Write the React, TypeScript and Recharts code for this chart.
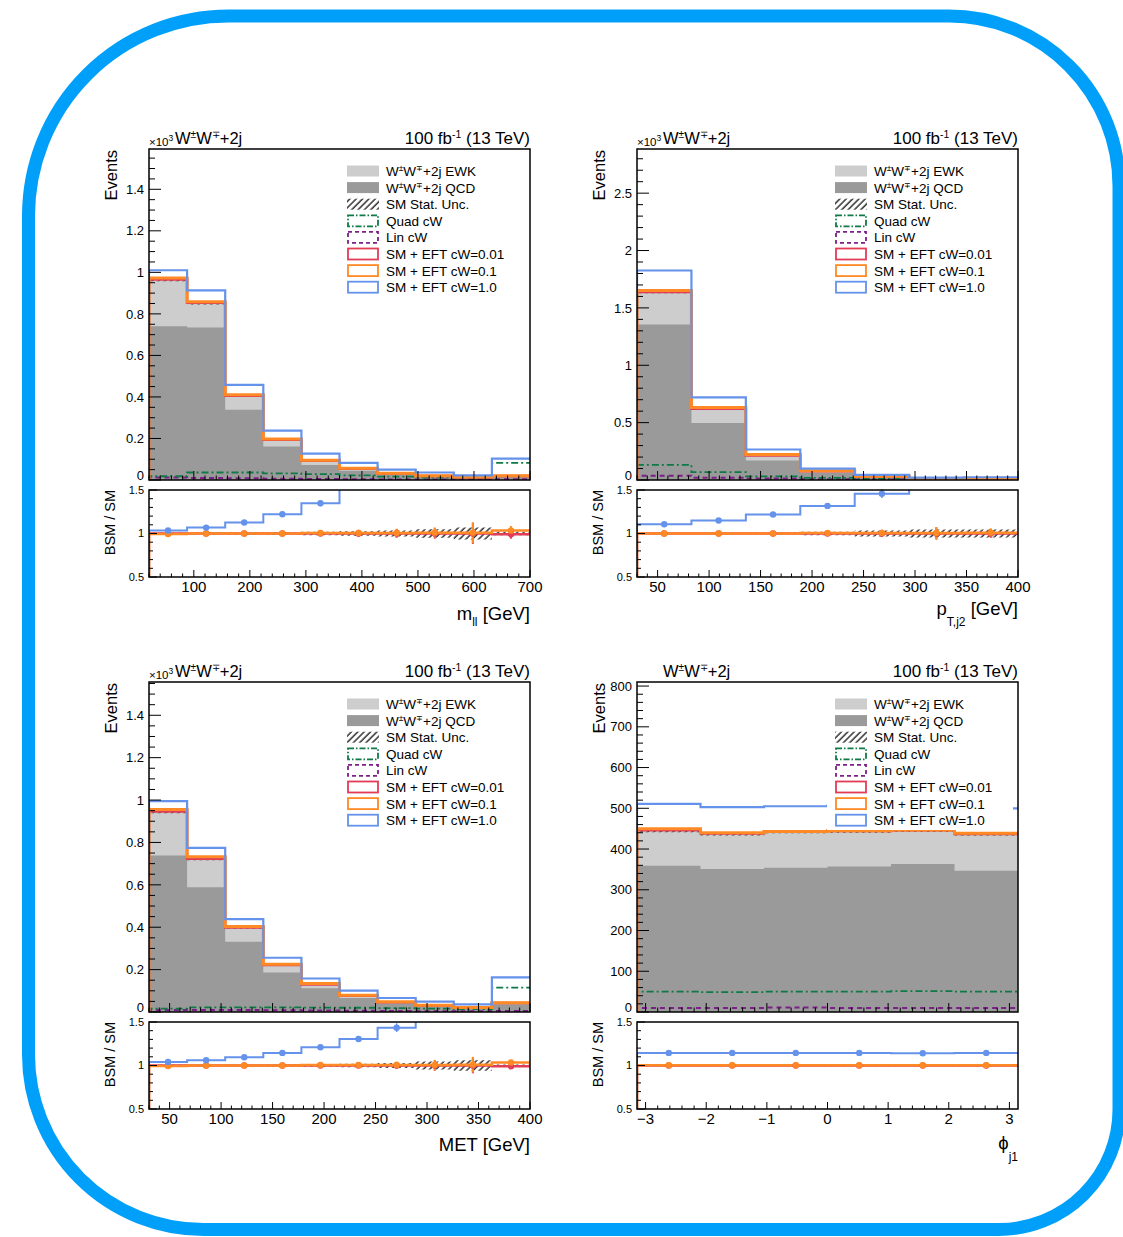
import React from 'react'
import { ComposedChart, Line, Area, Scatter, ErrorBar, XAxis, YAxis } from 'recharts'

const FONT = '"Liberation Sans", Arial, Helvetica, sans-serif'

const EWK = '#cdcdcd'
const QCD = '#9a9a9a'
const RED = '#e23d57'
const ORANGE = '#ff8a25'
const BLUE = '#6592ea'
const GREEN = '#0e7a45'
const PURPLE = '#7d1f88'
const BORDER = '#00a0fa'

// m_ll [GeV], events in units of 10^3
const mllEdges = [20, 88, 156, 224, 292, 360, 428, 496, 564, 632, 700]
const mllQcd = [0.74, 0.735, 0.338, 0.161, 0.072, 0.045, 0.027, 0.017, 0.012, 0.016]
const mllSm = [0.965, 0.852, 0.405, 0.193, 0.092, 0.054, 0.031, 0.019, 0.013, 0.019]
const mllUnc = [0.008, 0.007, 0.005, 0.003, 0.002, 0.0015, 0.0012, 0.001, 0.001, 0.001]
const mllLin = [0.012, 0.01, 0.008, 0.006, 0.005, 0.004, 0.003, 0.003, 0.002, 0.004]
const mllQuad = [0.018, 0.036, 0.036, 0.032, 0.028, 0.022, 0.016, 0.012, 0.01, 0.082]
const mllEft001 = [0.966, 0.853, 0.406, 0.194, 0.093, 0.054, 0.031, 0.019, 0.013, 0.019]
const mllEft01 = [0.973, 0.858, 0.41, 0.197, 0.095, 0.056, 0.032, 0.02, 0.014, 0.02]
const mllEft1 = [1.01, 0.913, 0.458, 0.238, 0.127, 0.082, 0.05, 0.036, 0.022, 0.103]
const mllR001 = [1.0, 1.0, 1.0, 1.0, 1.0, 1.0, 1.0, 1.0, 1.0, 0.99]
const mllR001Err = [0.005, 0.006, 0.008, 0.01, 0.015, 0.04, 0.05, 0.06, 0.12, 0.05]
const mllR01 = [0.995, 1.0, 1.0, 1.0, 1.005, 1.005, 1.005, 1.01, 1.01, 1.035]
const mllR01Err = [0.005, 0.006, 0.008, 0.01, 0.015, 0.04, 0.05, 0.06, 0.12, 0.05]
const mllR1 = [1.034, 1.068, 1.126, 1.221, 1.347, 1.55, 1.65, 1.85, 1.7, 5.4]
const mllR1Err = [0.01, 0.01, 0.012, 0.015, 0.035, 0.05, 0.06, 0.08, 0.1, 0.1]
const mllRUnc = [0.01, 0.01, 0.015, 0.015, 0.02, 0.025, 0.035, 0.05, 0.07, 0.02]
const mllXLabels = [100, 200, 300, 400, 500, 600, 700]
const mllYLabels = [0, 0.2, 0.4, 0.6, 0.8, 1, 1.2, 1.4]

// p_T,j2 [GeV]
const ptEdges = [30, 82.86, 135.71, 188.57, 241.43, 294.29, 347.14, 400]
const ptQcd = [1.355, 0.497, 0.17, 0.062, 0.022, 0.009, 0.008]
const ptSm = [1.637, 0.62, 0.212, 0.076, 0.03, 0.012, 0.014]
const ptUnc = [0.01, 0.006, 0.003, 0.002, 0.001, 0.0008, 0.0008]
const ptLin = [0.038, 0.02, 0.012, 0.006, 0.004, 0.002, 0.002]
const ptQuad = [0.132, 0.068, 0.032, 0.018, 0.01, 0.007, 0.008]
const ptEft001 = [1.638, 0.621, 0.213, 0.076, 0.03, 0.012, 0.014]
const ptEft01 = [1.652, 0.632, 0.222, 0.081, 0.033, 0.013, 0.015]
const ptEft1 = [1.826, 0.72, 0.266, 0.1, 0.044, 0.02, 0.024]
const ptR001 = [1.0, 1.0, 1.0, 1.0, 1.0, 1.0, 1.0]
const ptR001Err = [0.004, 0.006, 0.01, 0.025, 0.04, 0.07, 0.05]
const ptR01 = [1.0, 1.0, 1.0, 1.005, 1.005, 1.005, 1.01]
const ptR01Err = [0.004, 0.006, 0.01, 0.025, 0.04, 0.07, 0.05]
const ptR1 = [1.107, 1.149, 1.218, 1.317, 1.458, 1.65, 1.7]
const ptR1Err = [0.008, 0.01, 0.015, 0.03, 0.05, 0.08, 0.1]
const ptRUnc = [0.006, 0.006, 0.012, 0.02, 0.035, 0.045, 0.045]
const ptXLabels = [50, 100, 150, 200, 250, 300, 350, 400]
const ptYLabels = [0, 0.5, 1, 1.5, 2, 2.5]

// MET [GeV]
const metEdges = [30, 67, 104, 141, 178, 215, 252, 289, 326, 363, 400]
const metQcd = [0.738, 0.589, 0.332, 0.186, 0.112, 0.066, 0.04, 0.026, 0.017, 0.036]
const metSm = [0.945, 0.722, 0.398, 0.221, 0.13, 0.077, 0.046, 0.031, 0.02, 0.042]
const metUnc = [0.007, 0.006, 0.004, 0.003, 0.002, 0.0015, 0.0012, 0.001, 0.001, 0.001]
const metLin = [0.01, 0.01, 0.009, 0.008, 0.007, 0.006, 0.005, 0.004, 0.003, 0.005]
const metQuad = [0.016, 0.022, 0.022, 0.022, 0.021, 0.02, 0.018, 0.016, 0.014, 0.115]
const metEft001 = [0.946, 0.723, 0.399, 0.222, 0.13, 0.077, 0.046, 0.031, 0.02, 0.042]
const metEft01 = [0.956, 0.733, 0.403, 0.225, 0.134, 0.079, 0.048, 0.032, 0.021, 0.044]
const metEft1 = [0.995, 0.774, 0.438, 0.256, 0.158, 0.101, 0.066, 0.049, 0.036, 0.163]
const metR001 = [1.0, 1.0, 1.0, 1.0, 1.0, 1.0, 1.0, 1.0, 1.0, 0.99]
const metR001Err = [0.005, 0.006, 0.008, 0.01, 0.015, 0.025, 0.04, 0.06, 0.09, 0.03]
const metR01 = [0.995, 1.0, 1.0, 1.0, 1.005, 1.005, 1.005, 1.005, 1.01, 1.035]
const metR01Err = [0.005, 0.006, 0.008, 0.01, 0.015, 0.025, 0.04, 0.06, 0.09, 0.03]
const metR1 = [1.04, 1.06, 1.095, 1.145, 1.21, 1.305, 1.435, 1.6, 1.8, 3.9]
const metR1Err = [0.008, 0.01, 0.012, 0.015, 0.025, 0.035, 0.05, 0.07, 0.1, 0.1]
const metRUnc = [0.01, 0.006, 0.01, 0.012, 0.015, 0.02, 0.03, 0.045, 0.06, 0.012]
const metXLabels = [50, 100, 150, 200, 250, 300, 350, 400]
const metYLabels = [0, 0.2, 0.4, 0.6, 0.8, 1, 1.2, 1.4]

// phi_j1, raw event counts
const phiEdges = [-3.1416, -2.0944, -1.0472, 0, 1.0472, 2.0944, 3.1416]
const phiQcd = [359, 351, 354, 357, 363, 347]
const phiSm = [445, 437, 443, 444, 446, 437]
const phiUnc = [4, 4, 4, 4, 4, 4]
const phiLin = [10, 10, 11, 10, 10, 10]
const phiQuad = [50, 49, 50, 50, 51, 50]
const phiEft001 = [446, 438, 443, 444, 446, 437]
const phiEft01 = [450, 440, 443, 445, 447, 439]
const phiEft1 = [511, 503, 505, 507, 510, 500]
const phiR001 = [1.0, 1.0, 1.0, 1.0, 1.0, 1.0]
const phiR001Err = [0.004, 0.004, 0.004, 0.004, 0.004, 0.004]
const phiR01 = [1.004, 1.004, 1.003, 1.003, 1.003, 1.004]
const phiR01Err = [0.004, 0.004, 0.004, 0.004, 0.004, 0.004]
const phiR1 = [1.145, 1.145, 1.145, 1.145, 1.14, 1.145]
const phiR1Err = [0.005, 0.005, 0.005, 0.005, 0.005, 0.005]
const phiRUnc = [0.009, 0.009, 0.009, 0.009, 0.009, 0.009]
const phiXLabels = [-3, -2, -1, 0, 1, 2, 3]
const phiYLabels = [0, 100, 200, 300, 400, 500, 600, 700, 800]

const ratioYLabels = [0.5, 1, 1.5]

type Spec = {
  left: number
  right: number
  top: number
  bottom: number
  rTop: number
  rBottom: number
  edges: number[]
  qcd: number[]
  sm: number[]
  unc: number[]
  lin: number[]
  quad: number[]
  eft001: number[]
  eft01: number[]
  eft1: number[]
  r001: number[]
  r001Err: number[]
  r01: number[]
  r01Err: number[]
  r1: number[]
  r1Err: number[]
  rUnc: number[]
  yMax: number
  yLabels: number[]
  yMinor: number
  xLabels: number[]
  xMinor: number
  scaled: boolean
  xTitle: React.ReactNode
  xTitleY: number
}

// histogram outline: one point per bin edge, optional drop to the floor at the left edge
const stepRows = (edges: number[], vals: number[], drop?: number) => {
  const rows = edges.map((x, i) => ({ x, y: vals[Math.min(i, vals.length - 1)] }))
  return drop === undefined ? rows : [{ x: edges[0], y: drop }, ...rows]
}

const bandRows = (edges: number[], mid: number[] | number, half: number[]) =>
  edges.map((x, i) => {
    const k = Math.min(i, half.length - 1)
    const m = typeof mid === 'number' ? mid : mid[k]
    return { x, y: [m - half[k], m + half[k]] }
  })

const pointRows = (edges: number[], vals: number[], errs: number[]) =>
  edges
    .slice(0, -1)
    .map((e, i) => ({ x: (e + edges[i + 1]) / 2, y: vals[i], e: errs[i] }))
    .filter((p) => p.y <= 1.5 && p.y >= 0.5)

const tickRange = (from: number, to: number, step: number) => {
  const out: number[] = []
  const start = Math.ceil(from / step - 1e-9) * step
  for (let v = start; v <= to + 1e-9; v += step) out.push(+v.toFixed(6))
  return out
}

const isIn = (list: number[], v: number) => list.some((m) => Math.abs(m - v) < 1e-6)
const fmt = (v: number) => (v < 0 ? `\u2212${-v}` : String(v))

// lift: extra upward shift of the label at the bottom of the axis, so it clears the pad below
const makeYTick = (labels: number[], long: number, short: number, fontSize: number, lift = 0) => (p: any) => {
  const v = p.payload.value
  const major = isIn(labels, v)
  const shift = v === labels[0] ? lift : 0
  return (
    <g>
      <line x1={p.x} x2={p.x + (major ? long : short)} y1={p.y} y2={p.y} stroke="#000" strokeWidth={1} />
      {major && (
        <text x={p.x - 5} y={p.y - shift} dy="0.36em" textAnchor="end" fontSize={fontSize} fontFamily={FONT} fill="#000">
          {fmt(v)}
        </text>
      )}
    </g>
  )
}

const makeXTick = (labels: number[], long: number, short: number, fontSize?: number) => (p: any) => {
  const v = p.payload.value
  const major = isIn(labels, v)
  return (
    <g>
      <line x1={p.x} x2={p.x} y1={p.y} y2={p.y - (major ? long : short)} stroke="#000" strokeWidth={1} />
      {major && fontSize && (
        <text x={p.x} y={p.y + 15} textAnchor="middle" fontSize={fontSize} fontFamily={FONT} fill="#000">
          {fmt(v)}
        </text>
      )}
    </g>
  )
}

const dot = (c: string) => (p: any) => <circle cx={p.cx} cy={p.cy} r={3.2} fill={c} />

// the axes need a non-zero size to be drawn, so they take 1px out of the margins
const PAD_L = 60
const PAD_R = 20

function MainPlot({ s }: { s: Spec }) {
  const w = s.right - s.left
  const h = s.bottom - s.top
  const x0 = s.edges[0]
  const x1 = s.edges[s.edges.length - 1]
  return (
    <div style={{ position: 'absolute', left: s.left - PAD_L, top: s.top - 10 }}>
      <ComposedChart width={w + PAD_L + PAD_R} height={h + 20} margin={{ top: 10, left: PAD_L - 1, right: PAD_R, bottom: 9 }}>
        <XAxis
          dataKey="x"
          type="number"
          domain={[x0, x1]}
          allowDataOverflow
          ticks={tickRange(x0, x1, s.xMinor)}
          interval={0}
          height={1}
          tickSize={0}
          tickMargin={0}
          axisLine={false}
          tick={makeXTick(s.xLabels, 9, 4.5)}
        />
        <YAxis
          type="number"
          domain={[0, s.yMax]}
          allowDataOverflow
          ticks={tickRange(0, s.yMax, s.yMinor)}
          interval={0}
          width={1}
          tickSize={0}
          tickMargin={0}
          axisLine={false}
          tick={makeYTick(s.yLabels, 12, 6, 13, 5)}
        />
        <Area data={stepRows(s.edges, s.sm)} dataKey="y" type="stepAfter" fill={EWK} fillOpacity={1} stroke="none" isAnimationActive={false} />
        <Area data={stepRows(s.edges, s.qcd)} dataKey="y" type="stepAfter" fill={QCD} fillOpacity={1} stroke="none" isAnimationActive={false} />
        <Area data={bandRows(s.edges, s.sm, s.unc)} dataKey="y" type="stepAfter" fill="url(#hatch)" fillOpacity={1} stroke="none" isAnimationActive={false} />
        <Line data={stepRows(s.edges, s.lin, 0)} dataKey="y" type="stepAfter" stroke={PURPLE} strokeWidth={2} strokeDasharray="5 4" dot={false} activeDot={false} isAnimationActive={false} />
        <Line data={stepRows(s.edges, s.quad, 0)} dataKey="y" type="stepAfter" stroke={GREEN} strokeWidth={1.8} strokeDasharray="7 3 2 3" dot={false} activeDot={false} isAnimationActive={false} />
        <Line data={stepRows(s.edges, s.eft001, 0)} dataKey="y" type="stepAfter" stroke={RED} strokeWidth={2.5} dot={false} activeDot={false} isAnimationActive={false} />
        <Line data={stepRows(s.edges, s.eft01, 0)} dataKey="y" type="stepAfter" stroke={ORANGE} strokeWidth={3} dot={false} activeDot={false} isAnimationActive={false} />
        <Line data={stepRows(s.edges, s.eft1, 0)} dataKey="y" type="stepAfter" stroke={BLUE} strokeWidth={2.2} dot={false} activeDot={false} isAnimationActive={false} />
      </ComposedChart>
    </div>
  )
}

function RatioPlot({ s }: { s: Spec }) {
  const w = s.right - s.left
  const h = s.rBottom - s.rTop
  const x0 = s.edges[0]
  const x1 = s.edges[s.edges.length - 1]
  return (
    <div style={{ position: 'absolute', left: s.left - PAD_L, top: s.rTop - 8, background: '#fff' }}>
      <ComposedChart width={w + PAD_L + PAD_R} height={h + 32} margin={{ top: 8, left: PAD_L - 1, right: PAD_R, bottom: 23 }}>
        <XAxis
          dataKey="x"
          type="number"
          domain={[x0, x1]}
          allowDataOverflow
          ticks={tickRange(x0, x1, s.xMinor)}
          interval={0}
          height={1}
          tickSize={0}
          tickMargin={0}
          axisLine={false}
          tick={makeXTick(s.xLabels, 7, 3.5, 15)}
        />
        <YAxis
          type="number"
          domain={[0.5, 1.5]}
          allowDataOverflow
          ticks={tickRange(0.5, 1.5, 0.1)}
          interval={0}
          width={1}
          tickSize={0}
          tickMargin={0}
          axisLine={false}
          tick={makeYTick(ratioYLabels, 8, 4, 11)}
        />
        <Area data={bandRows(s.edges, 1, s.rUnc)} dataKey="y" type="stepAfter" fill="url(#hatch)" fillOpacity={1} stroke="none" isAnimationActive={false} />
        <Line data={stepRows(s.edges, s.r001, 0)} dataKey="y" type="stepAfter" stroke={RED} strokeWidth={2.5} dot={false} activeDot={false} isAnimationActive={false} />
        <Line data={stepRows(s.edges, s.r01, 0)} dataKey="y" type="stepAfter" stroke={ORANGE} strokeWidth={2.5} dot={false} activeDot={false} isAnimationActive={false} />
        <Line data={stepRows(s.edges, s.r1, 0)} dataKey="y" type="stepAfter" stroke={BLUE} strokeWidth={2} dot={false} activeDot={false} isAnimationActive={false} />
        <Scatter data={pointRows(s.edges, s.r001, s.r001Err)} dataKey="y" shape={dot(RED)} isAnimationActive={false}>
          <ErrorBar dataKey="e" direction="y" width={0} stroke={RED} strokeWidth={2} isAnimationActive={false} />
        </Scatter>
        <Scatter data={pointRows(s.edges, s.r01, s.r01Err)} dataKey="y" shape={dot(ORANGE)} isAnimationActive={false}>
          <ErrorBar dataKey="e" direction="y" width={0} stroke={ORANGE} strokeWidth={2} isAnimationActive={false} />
        </Scatter>
        <Scatter data={pointRows(s.edges, s.r1, s.r1Err)} dataKey="y" shape={dot(BLUE)} isAnimationActive={false}>
          <ErrorBar dataKey="e" direction="y" width={0} stroke={BLUE} strokeWidth={1.5} isAnimationActive={false} />
        </Scatter>
      </ComposedChart>
    </div>
  )
}

// W±W∓+2j with raised charge signs
function WW({ fs }: { fs: number }) {
  const up = fs * 0.36
  const small = fs * 0.62
  return (
    <>
      <tspan>W</tspan>
      <tspan dy={-up} fontSize={small}>±</tspan>
      <tspan dy={up}>W</tspan>
      <tspan dy={-up} fontSize={small}>∓</tspan>
      <tspan dy={up}>+2j</tspan>
    </>
  )
}

const legendRows = [
  { kind: 'ewk', label: 'EWK' },
  { kind: 'qcd', label: 'QCD' },
  { kind: 'unc', label: 'SM Stat. Unc.' },
  { kind: 'quad', label: 'Quad cW' },
  { kind: 'lin', label: 'Lin cW' },
  { kind: 'eft001', label: 'SM + EFT cW=0.01' },
  { kind: 'eft01', label: 'SM + EFT cW=0.1' },
  { kind: 'eft1', label: 'SM + EFT cW=1.0' },
]

function Swatch({ kind, x, y }: { kind: string; x: number; y: number }) {
  const w = 32
  const h = 11
  if (kind === 'ewk') return <rect x={x} y={y} width={w} height={h} fill={EWK} />
  if (kind === 'qcd') return <rect x={x} y={y} width={w} height={h} fill={QCD} />
  if (kind === 'unc') return <rect x={x} y={y} width={w} height={h} fill="url(#hatch)" />
  const stroke = { quad: GREEN, lin: PURPLE, eft001: RED, eft01: ORANGE, eft1: BLUE }[kind] as string
  const dash = kind === 'quad' ? '6 2 1.5 2' : kind === 'lin' ? '4 3' : undefined
  return <rect x={x + 1} y={y} width={w - 2} height={h} fill="none" stroke={stroke} strokeWidth={1.8} strokeDasharray={dash} />
}

function LegendBox({ s }: { s: Spec }) {
  const bx = s.left + 190
  const by = s.top + 12
  return (
    <g>
      <rect x={bx} y={by} width={s.right - s.left - 195} height={136} fill="#fff" />
      {legendRows.map((r, i) => {
        const cy = s.top + 22 + i * 16.6
        return (
          <g key={r.kind}>
            <Swatch kind={r.kind} x={s.left + 198} y={cy - 5.5} />
            <text x={s.left + 237} y={cy + 5} fontSize={13.5} fontFamily={FONT} fill="#000">
              {i < 2 ? (
                <>
                  <WW fs={13.5} /> {r.label}
                </>
              ) : (
                r.label
              )}
            </text>
          </g>
        )
      })}
    </g>
  )
}

function PanelText({ s }: { s: Spec }) {
  return (
    <g fontFamily={FONT} fill="#000">
      <rect x={s.left} y={s.top} width={s.right - s.left} height={s.bottom - s.top} fill="none" stroke="#000" strokeWidth={1.5} />
      <rect x={s.left} y={s.rTop} width={s.right - s.left} height={s.rBottom - s.rTop} fill="none" stroke="#000" strokeWidth={1.5} />
      <LegendBox s={s} />
      {s.scaled && (
        <text x={s.left} y={s.top - 3} fontSize={11.5}>
          ×10<tspan dy={-5} fontSize={8.5}>3</tspan>
        </text>
      )}
      <text x={s.left + 26} y={s.top - 5} fontSize={16.5}>
        <WW fs={16.5} />
      </text>
      <text x={s.right} y={s.top - 5} fontSize={17} textAnchor="end">
        <tspan>100 fb</tspan>
        <tspan dy={-6} fontSize={10.5}>-1</tspan>
        <tspan dy={6}> (13 TeV)</tspan>
      </text>
      <text transform={`translate(${s.left - 32},${s.top + 1}) rotate(-90)`} fontSize={16.5} textAnchor="end">
        Events
      </text>
      <text transform={`translate(${s.left - 34},${s.rTop}) rotate(-90)`} fontSize={14.5} textAnchor="end">
        BSM / SM
      </text>
      <text x={s.right} y={s.xTitleY} fontSize={18.5} textAnchor="end">
        {s.xTitle}
      </text>
    </g>
  )
}

const panels: Spec[] = [
  {
    left: 149, right: 530, top: 149, bottom: 480, rTop: 490, rBottom: 577,
    edges: mllEdges, qcd: mllQcd, sm: mllSm, unc: mllUnc, lin: mllLin, quad: mllQuad,
    eft001: mllEft001, eft01: mllEft01, eft1: mllEft1,
    r001: mllR001, r001Err: mllR001Err, r01: mllR01, r01Err: mllR01Err, r1: mllR1, r1Err: mllR1Err, rUnc: mllRUnc,
    yMax: 1.594, yLabels: mllYLabels, yMinor: 0.05, xLabels: mllXLabels, xMinor: 20, scaled: true,
    xTitle: (
      <>
        <tspan>m</tspan>
        <tspan dy={6} fontSize={12}>ll</tspan>
        <tspan dy={-6}> [GeV]</tspan>
      </>
    ),
    xTitleY: 620,
  },
  {
    left: 637, right: 1018, top: 149, bottom: 480, rTop: 490, rBottom: 577,
    edges: ptEdges, qcd: ptQcd, sm: ptSm, unc: ptUnc, lin: ptLin, quad: ptQuad,
    eft001: ptEft001, eft01: ptEft01, eft1: ptEft1,
    r001: ptR001, r001Err: ptR001Err, r01: ptR01, r01Err: ptR01Err, r1: ptR1, r1Err: ptR1Err, rUnc: ptRUnc,
    yMax: 2.885, yLabels: ptYLabels, yMinor: 0.1, xLabels: ptXLabels, xMinor: 10, scaled: true,
    xTitle: (
      <>
        <tspan>p</tspan>
        <tspan dy={11} fontSize={12}>T,j2</tspan>
        <tspan dy={-11}> [GeV]</tspan>
      </>
    ),
    xTitleY: 615,
  },
  {
    left: 149, right: 530, top: 682, bottom: 1012, rTop: 1022, rBottom: 1109,
    edges: metEdges, qcd: metQcd, sm: metSm, unc: metUnc, lin: metLin, quad: metQuad,
    eft001: metEft001, eft01: metEft01, eft1: metEft1,
    r001: metR001, r001Err: metR001Err, r01: metR01, r01Err: metR01Err, r1: metR1, r1Err: metR1Err, rUnc: metRUnc,
    yMax: 1.557, yLabels: metYLabels, yMinor: 0.05, xLabels: metXLabels, xMinor: 10, scaled: true,
    xTitle: 'MET [GeV]',
    xTitleY: 1151,
  },
  {
    left: 637, right: 1018, top: 682, bottom: 1012, rTop: 1022, rBottom: 1109,
    edges: phiEdges, qcd: phiQcd, sm: phiSm, unc: phiUnc, lin: phiLin, quad: phiQuad,
    eft001: phiEft001, eft01: phiEft01, eft1: phiEft1,
    r001: phiR001, r001Err: phiR001Err, r01: phiR01, r01Err: phiR01Err, r1: phiR1, r1Err: phiR1Err, rUnc: phiRUnc,
    yMax: 810, yLabels: phiYLabels, yMinor: 20, xLabels: phiXLabels, xMinor: 0.2, scaled: false,
    xTitle: (
      <>
        <tspan>{'\u03D5'}</tspan>
        <tspan dy={12} fontSize={12}>j1</tspan>
      </>
    ),
    xTitleY: 1149,
  },
]

// rounded frame around the whole figure, each corner with its own radius
function borderPath() {
  const l = 28.5
  const t = 16
  const r = 1119
  const b = 1229.5
  const tl = 200
  const tr = 170
  const br = 120
  const bl = 175
  return [
    `M ${l + tl} ${t}`,
    `L ${r - tr} ${t}`,
    `A ${tr} ${tr} 0 0 1 ${r} ${t + tr}`,
    `L ${r} ${b - br}`,
    `A ${br} ${br} 0 0 1 ${r - br} ${b}`,
    `L ${l + bl} ${b}`,
    `A ${bl} ${bl} 0 0 1 ${l} ${b - bl}`,
    `L ${l} ${t + tl}`,
    `A ${tl} ${tl} 0 0 1 ${l + tl} ${t}`,
    'Z',
  ].join(' ')
}

export default function App() {
  return (
    <div style={{ position: 'absolute', left: 0, top: 0, width: 1123, height: 1237, overflow: 'hidden', background: '#fff' }}>
      {panels.map((s, i) => (
        <MainPlot key={`m${i}`} s={s} />
      ))}
      {panels.map((s, i) => (
        <RatioPlot key={`r${i}`} s={s} />
      ))}
      <svg width={1123} height={1237} style={{ position: 'absolute', left: 0, top: 0, pointerEvents: 'none' }}>
        <defs>
          <pattern id="hatch" width={4.5} height={4.5} patternUnits="userSpaceOnUse" patternTransform="rotate(45)">
            <line x1={1} y1={0} x2={1} y2={4.5} stroke="#000" strokeWidth={1.2} />
          </pattern>
        </defs>
        {panels.map((s, i) => (
          <PanelText key={`t${i}`} s={s} />
        ))}
        <path d={borderPath()} fill="none" stroke={BORDER} strokeWidth={13} />
      </svg>
    </div>
  )
}
